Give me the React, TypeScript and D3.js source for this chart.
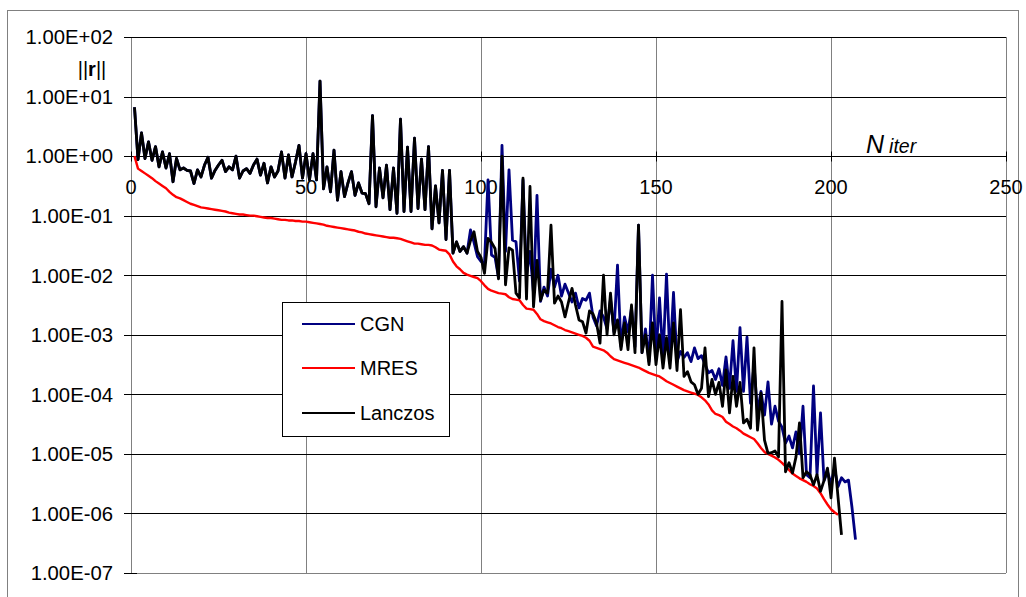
import React from 'react';
import * as d3 from 'd3';

// residual norm per iteration (log10 ||r||)
// CGN and Lanczos lie on top of each other up to iteration 96
const sharedExp = [
  0.82, -0.06, 0.39, -0.04, 0.24, -0.07, 0.16, -0.18, 0.07, -0.2,
  0.04, -0.43, -0.04, -0.23, -0.2, -0.24, -0.25, -0.46, -0.23, -0.35,
  -0.15, -0.02, -0.37, -0.24, -0.15, -0.07, -0.26, -0.18, -0.23, 0.0,
  -0.37, -0.25, -0.21, -0.29, -0.15, -0.05, -0.32, -0.12, -0.45, -0.18,
  -0.35, -0.25, 0.07, -0.37, 0.02, -0.35, -0.1, 0.18, -0.37, 0.04,
  -0.4, 0.04, -0.4, 1.26, -0.55, -0.18, -0.6, 0.1, -0.74, -0.26,
  -0.68, -0.45, -0.26, -0.66, -0.45, -0.62, -0.63, -0.8, 0.68, -0.85,
  -0.2, -0.7, -0.15, -0.9, -0.2, -0.96, 0.62, -0.93, 0.15, -0.93,
  0.3, -0.88, -0.05, -0.9, 0.16, -1.22, -0.5, -1.12, -0.24, -1.4,
  -0.24, -1.63, -1.44, -1.6, -1.52, -1.63,
];

// Lanczos, iterations 97..203
const lanczosTailExp = [
  -1.42, -1.27, -1.6, -1.7, -1.97, -1.38, -1.45, -1.55, -2.06, 0.0,
  -2.16, -1.54, -1.58, -2.3, -2.38, -0.37, -2.4, -0.51, -2.53, -1.75,
  -2.42, -2.25, -2.3, -1.16, -2.47, -2.35, -2.45, -2.7, -2.45, -2.22,
  -2.5, -2.75, -2.78, -2.97, -2.6, -2.65, -2.8, -3.14, -2.0, -3.0,
  -2.3, -3.0, -2.75, -3.25, -2.8, -3.25, -2.5, -3.3, -1.16, -3.3,
  -3.0, -3.5, -2.8, -3.5, -3.0, -3.56, -3.05, -3.56, -2.8, -3.6,
  -2.58, -3.7, -3.62, -3.79, -3.84, -4.0, -3.9, -3.22, -4.04, -3.75,
  -4.0, -3.8, -4.2, -3.59, -4.31, -3.7, -4.2, -3.8, -4.48, -4.42,
  -4.57, -3.22, -4.6, -3.98, -4.77, -4.99, -4.98, -4.95, -5.05, -2.44,
  -5.3, -5.15, -5.32, -5.05, -4.48, -5.4, -5.3, -5.35, -5.52, -5.35,
  -5.63, -5.45, -5.24, -5.74, -5.07, -5.72, -6.36,
];

// CGN, iterations 97..207
const cgnTailExp = [
  -1.24, -1.45, -1.69, -1.77, -1.8, -0.4, -1.66, -1.7, -2.04, 0.18,
  -1.6, -0.23, -1.41, -1.44, -2.1, -0.4, -2.0, -1.6, -2.3, -0.66,
  -2.44, -2.2, -2.35, -1.9, -2.2, -2.0, -2.35, -2.15, -2.3, -2.45,
  -2.3, -2.55, -2.39, -2.42, -2.3, -2.7, -2.85, -2.6, -2.7, -2.9,
  -2.4, -2.95, -1.83, -3.2, -2.7, -2.95, -2.55, -3.2, -1.16, -3.3,
  -2.9, -3.45, -2.0, -3.35, -2.38, -3.4, -1.98, -3.4, -2.29, -3.45,
  -3.28, -3.38, -3.3, -3.45, -3.22, -3.4, -3.35, -3.5, -3.64, -3.6,
  -3.75, -3.57, -3.85, -3.37, -3.9, -3.1, -3.95, -2.88, -3.95, -3.04,
  -4.15, -3.5, -4.3, -3.95, -4.35, -3.79, -4.5, -4.2, -4.45, -4.55,
  -4.82, -4.7, -4.9, -4.63, -5.0, -4.2, -5.35, -5.4, -3.86, -5.35,
  -4.31, -5.45, -5.3, -5.5, -5.25, -5.55, -5.4, -5.47, -5.44, -5.9, -6.44,
];

// MRES, iterations 1..202
const mresExp = [
  0.0, -0.21, -0.25, -0.29, -0.33, -0.37, -0.42, -0.46, -0.5, -0.54,
  -0.6, -0.65, -0.69, -0.71, -0.74, -0.77, -0.8, -0.82, -0.84, -0.86,
  -0.87, -0.88, -0.89, -0.9, -0.91, -0.92, -0.93, -0.95, -0.96, -0.97,
  -0.98, -0.98, -0.99, -1.0, -1.0, -1.01, -1.02, -1.03, -1.04, -1.04,
  -1.05, -1.06, -1.07, -1.07, -1.08, -1.08, -1.09, -1.09, -1.1, -1.1,
  -1.11, -1.12, -1.13, -1.14, -1.15, -1.17, -1.18, -1.19, -1.2, -1.21,
  -1.22, -1.23, -1.24, -1.25, -1.27, -1.28, -1.3, -1.31, -1.32, -1.33,
  -1.34, -1.35, -1.36, -1.37, -1.37, -1.38, -1.39, -1.41, -1.43, -1.45,
  -1.47, -1.47, -1.48, -1.49, -1.49, -1.5, -1.53, -1.57, -1.58, -1.59,
  -1.65, -1.77, -1.85, -1.9, -1.96, -1.99, -2.01, -2.03, -2.05, -2.1,
  -2.17, -2.23, -2.26, -2.28, -2.3, -2.31, -2.32, -2.37, -2.4, -2.41,
  -2.42, -2.5, -2.56, -2.57, -2.58, -2.65, -2.74, -2.77, -2.79, -2.81,
  -2.84, -2.87, -2.89, -2.92, -2.94, -2.96, -2.98, -3.0, -3.02, -3.05,
  -3.1, -3.2, -3.22, -3.24, -3.26, -3.3, -3.36, -3.41, -3.43, -3.45,
  -3.47, -3.49, -3.51, -3.53, -3.55, -3.58, -3.61, -3.64, -3.66, -3.68,
  -3.7, -3.74, -3.78, -3.81, -3.84, -3.87, -3.9, -3.93, -3.95, -3.97,
  -3.99, -4.01, -4.05, -4.1, -4.17, -4.27, -4.33, -4.35, -4.38, -4.46,
  -4.5, -4.54, -4.57, -4.61, -4.66, -4.69, -4.72, -4.75, -4.82, -4.9,
  -4.97, -5.0, -5.03, -5.06, -5.1, -5.15, -5.21, -5.27, -5.33, -5.37,
  -5.41, -5.44, -5.47, -5.51, -5.54, -5.58, -5.66, -5.76, -5.85, -5.93,
  -5.98, -6.02,
];

const xTicks = [0, 50, 100, 150, 200, 250];
const yTicks = [1e2, 1e1, 1e0, 1e-1, 1e-2, 1e-3, 1e-4, 1e-5, 1e-6, 1e-7];
const yTickLabels = [
  '1.00E+02', '1.00E+01', '1.00E+00', '1.00E-01', '1.00E-02',
  '1.00E-03', '1.00E-04', '1.00E-05', '1.00E-06', '1.00E-07',
];
const seriesNames = ['CGN', 'MRES', 'Lanczos'];

const FONT = '"Liberation Sans", Arial, sans-serif';
const COLORS = ['#000080', '#ff0000', '#000000'];
const WIDTHS = [2.8, 2.4, 2.8];

const App = () => {
  const x = d3.scaleLinear().domain([0, 250]).range([131, 1006]);
  const y = d3.scaleLog().domain([1e-7, 1e2]).range([573, 37]);

  const toPoints = (exps: number[]) => exps.map((e, k) => [k + 1, Math.pow(10, e)] as [number, number]);
  const series = [
    toPoints([...sharedExp, ...cgnTailExp]),
    toPoints(mresExp),
    toPoints([...sharedExp, ...lanczosTailExp]),
  ];

  const path = d3.line<[number, number]>()
    .x(d => x(d[0]))
    .y(d => y(d[1]));

  const crisp = (v: number) => Math.round(v) + 0.5;
  const axisY = crisp(y(1));
  const legendRows = [324, 368, 413];

  return (
    <div style={{ position: 'fixed', left: 0, top: 0 }}>
      <svg width={1026} height={597} style={{ display: 'block', background: '#fff' }} fontFamily={FONT}>
        {/* outer frame */}
        <rect x={7.5} y={10.5} width={1011} height={620} fill="#fff" stroke="#808080" strokeWidth={1} />

        {/* vertical grid */}
        {xTicks.map(t => (
          <line key={'vx' + t} x1={crisp(x(t))} x2={crisp(x(t))} y1={37} y2={573} stroke="#808080" strokeWidth={1} />
        ))}
        {/* horizontal grid */}
        {yTicks.map(t => (
          <line key={'hy' + t} x1={124} x2={1006} y1={crisp(y(t))} y2={crisp(y(t))}
            stroke={t === 1e-7 ? '#808080' : '#000'} strokeWidth={1} />
        ))}
        <line x1={124} x2={137} y1={crisp(y(1e-7))} y2={crisp(y(1e-7))} stroke="#000" />

        {/* x axis at 1.00E+00 with crossing ticks */}
        <line x1={131} x2={1006} y1={axisY} y2={axisY} stroke="#000" strokeWidth={1} />
        {xTicks.map(t => (
          <line key={'xt' + t} x1={crisp(x(t))} x2={crisp(x(t))} y1={axisY - 5} y2={axisY + 5} stroke="#000" />
        ))}

        {/* y tick labels */}
        {yTicks.map((t, k) => (
          <text key={'yl' + t} x={113} y={y(t)} dy="0.36em" textAnchor="end" fontSize={20.3} fill="#000">
            {yTickLabels[k]}
          </text>
        ))}
        {/* x tick labels */}
        {xTicks.map(t => (
          <text key={'xl' + t} x={x(t)} y={194} textAnchor="middle" fontSize={20} fill="#000">
            {t}
          </text>
        ))}

        {/* series */}
        {series.map((pts, k) => (
          <path key={seriesNames[k]} d={path(pts) || ''} fill="none" stroke={COLORS[k]}
            strokeWidth={WIDTHS[k]} strokeLinejoin="round" />
        ))}

        {/* axis titles */}
        <text x={92} y={76} textAnchor="middle" fontSize={20} fill="#000">
          <tspan>||</tspan>
          <tspan fontWeight="bold">r</tspan>
          <tspan>||</tspan>
        </text>
        <text x={866} y={153} fontStyle="italic" fill="#000">
          <tspan fontSize={25}>N</tspan>
          <tspan fontSize={19.5} dx={5}>iter</tspan>
        </text>

        {/* legend */}
        <rect x={282.5} y={302.5} width={167} height={134} fill="#fff" stroke="#000" strokeWidth={1} />
        {seriesNames.map((name, k) => (
          <g key={'lg' + name}>
            <line x1={302} x2={355} y1={legendRows[k]} y2={legendRows[k]} stroke={COLORS[k]} strokeWidth={2} />
            <text x={360} y={legendRows[k]} dy="0.36em" fontSize={20} fill="#000">{name}</text>
          </g>
        ))}
      </svg>
    </div>
  );
};

export default App;
